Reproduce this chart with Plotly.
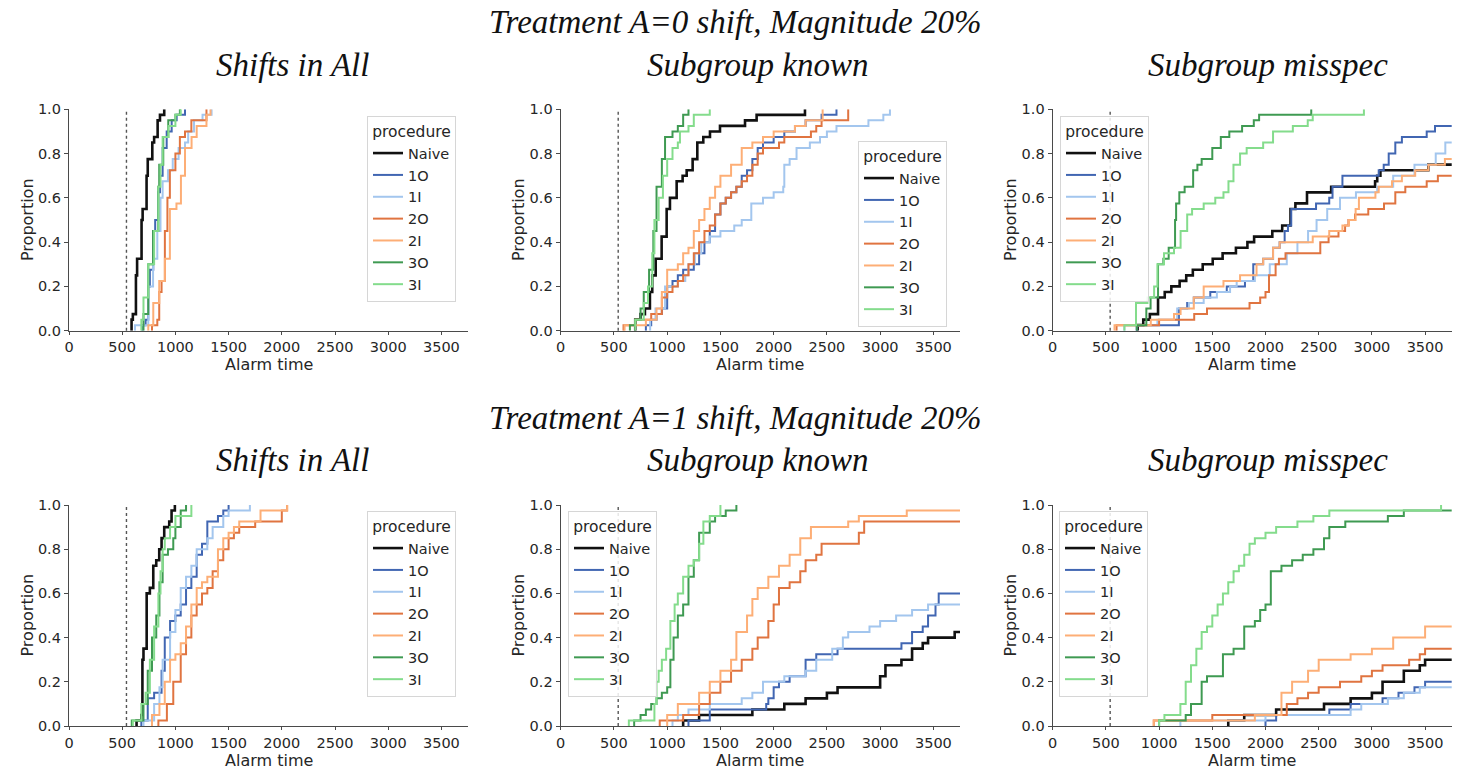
import plotly.graph_objects as go

W, H = 1461, 771          # browser window
BODY_MARGIN = 0           # page margin is removed by the post script
FIG_W, FIG_H = W - 2 * BODY_MARGIN, H - 2 * BODY_MARGIN
X_MAX = 3750
CHANGE_POINT = 540

PROCEDURES = ["Naive", "1O", "1I", "2O", "2I", "3O", "3I"]
COLORS = ["#111111", "#4166b2", "#a3c6ee", "#e07440", "#fdae76", "#3f9a52", "#84dc8c"]
X_TICKS = [0, 500, 1000, 1500, 2000, 2500, 3000, 3500]
Y_TICKS = [0.0, 0.2, 0.4, 0.6, 0.8, 1.0]
ROW_TITLES = ["Treatment A=0 shift, Magnitude 20%", "Treatment A=1 shift, Magnitude 20%"]
COL_TITLES = ["Shifts in All", "Subgroup known", "Subgroup misspec"]
X_LABEL = "Alarm time"
Y_LABEL = "Proportion"

# ---- A=0, Shifts in All ----
T_A0_ALL = {
    "Naive": [588, 600, 629, 640, 682, 692, 729, 740, 783, 800, 833, 855, 895],
    "1O": [690, 720, 745, 760, 792, 810, 839, 855, 880, 918, 965, 1012, 1090],
    "1I": [620, 745, 790, 830, 860, 880, 930, 975, 1030, 1090, 1120, 1175, 1255, 1340],
    "2O": [780, 830, 848, 870, 901, 925, 948, 1000, 1042, 1090, 1150, 1292],
    "2I": [745, 792, 848, 901, 948, 1010, 1052, 1090, 1152, 1200, 1292, 1330],
    "3O": [700, 745, 790, 839, 848, 886, 933, 1000, 1042],
    "3I": [680, 700, 745, 800, 840, 860, 880, 935, 1000, 1050],
}
P_A0_ALL = {
    "Naive": [0.05, 0.075, 0.25, 0.325, 0.5, 0.55, 0.7, 0.775, 0.85, 0.875, 0.95, 0.975, 1.0],
    "1O": [0.025, 0.05, 0.2, 0.275, 0.45, 0.5, 0.625, 0.7, 0.825, 0.9, 0.95, 0.975, 1.0],
    "1I": [0.025, 0.2, 0.325, 0.45, 0.6, 0.675, 0.725, 0.775, 0.825, 0.85, 0.9, 0.95, 0.975, 1.0],
    "2O": [0.025, 0.05, 0.175, 0.225, 0.45, 0.6, 0.725, 0.8, 0.875, 0.9, 0.95, 1.0],
    "2I": [0.025, 0.125, 0.225, 0.325, 0.55, 0.575, 0.7, 0.825, 0.875, 0.925, 0.975, 1.0],
    "3O": [0.075, 0.3, 0.45, 0.65, 0.75, 0.875, 0.95, 0.975, 1.0],
    "3I": [0.05, 0.15, 0.3, 0.45, 0.65, 0.75, 0.875, 0.925, 0.975, 1.0],
}

# ---- A=0, Subgroup known ----
T_A0_KNOWN = {
    "Naive": [700, 750, 791, 838, 860, 892, 948, 995, 1026, 1089, 1145, 1183, 1239, 1283, 1339, 1402, 1496, 1731, 1840, 2294],
    "1O": [800, 850, 900, 950, 1000, 1050, 1100, 1150, 1250, 1300, 1350, 1400, 1450, 1500, 1550, 1600, 1650, 1700,
           1750, 1800, 1850, 1900, 2000, 2100, 2200, 2300, 2450, 2590],
    "1I": [840, 890, 980, 1100, 1170, 1200, 1260, 1320, 1400, 1500, 1630, 1700, 1790, 1900, 2000, 2090, 2100, 2150,
           2215, 2340, 2435, 2500, 2590, 2890, 3030, 3092],
    "2O": [590, 700, 850, 950, 1000, 1050, 1100, 1150, 1200, 1250, 1300, 1350, 1400, 1450, 1500, 1550, 1600, 1650,
           1700, 1750, 1800, 1850, 1900, 2050, 2100, 2350, 2400, 2450, 2700],
    "2I": [600, 800, 900, 950, 1000, 1100, 1150, 1200, 1250, 1300, 1350, 1400, 1450, 1500, 1600, 1700, 1800, 1900,
           2000, 2200, 2300, 2460],
    "3O": [650, 700, 750, 780, 830, 870, 900, 950, 980, 1050, 1100, 1150, 1200],
    "3I": [700, 780, 820, 860, 880, 920, 960, 1000, 1050, 1100, 1120, 1200, 1250, 1400],
}
P_A0_KNOWN = {
    "Naive": [0.05, 0.075, 0.1, 0.175, 0.25, 0.325, 0.425, 0.55, 0.6, 0.675, 0.7, 0.725, 0.775, 0.85, 0.875, 0.9,
              0.925, 0.95, 0.975, 1.0],
    "1O": [0.025, 0.05, 0.075, 0.1, 0.2, 0.225, 0.25, 0.275, 0.3, 0.35, 0.4, 0.45, 0.525, 0.575, 0.6, 0.625, 0.65,
           0.7, 0.725, 0.775, 0.825, 0.85, 0.875, 0.9, 0.925, 0.95, 0.975, 1.0],
    "1I": [0.05, 0.1, 0.2, 0.225, 0.25, 0.3, 0.35, 0.4, 0.425, 0.45, 0.475, 0.5, 0.575, 0.6, 0.625, 0.65, 0.75,
           0.775, 0.825, 0.85, 0.875, 0.9, 0.925, 0.95, 0.975, 1.0],
    "2O": [0.025, 0.05, 0.075, 0.15, 0.175, 0.2, 0.225, 0.25, 0.3, 0.35, 0.4, 0.45, 0.475, 0.525, 0.575, 0.6, 0.625,
           0.65, 0.675, 0.7, 0.75, 0.8, 0.825, 0.85, 0.875, 0.9, 0.925, 0.95, 1.0],
    "2I": [0.025, 0.05, 0.1, 0.175, 0.275, 0.3, 0.35, 0.375, 0.45, 0.5, 0.55, 0.6, 0.65, 0.7, 0.75, 0.825, 0.85,
           0.875, 0.9, 0.925, 0.95, 1.0],
    "3O": [0.025, 0.05, 0.1, 0.175, 0.275, 0.45, 0.65, 0.775, 0.875, 0.9, 0.925, 0.975, 1.0],
    "3I": [0.05, 0.125, 0.2, 0.35, 0.5, 0.6, 0.7, 0.775, 0.825, 0.85, 0.9, 0.925, 0.975, 1.0],
}

# ---- A=0, Subgroup misspec ----
T_A0_MIS = {
    "Naive": [798, 851, 913, 990, 1053, 1115, 1193, 1255, 1317, 1410, 1504, 1597, 1722, 1830, 1893, 2064, 2157, 2235,
              2281, 2390, 2617, 3030, 3050, 3080, 3530],
    "1O": [790, 1186, 1264, 1326, 1481, 1636, 1807, 1885, 1978, 2071, 2133, 2180, 2211, 2242, 2475, 2599, 2630, 2723,
           3064, 3111, 3158, 3220, 3282, 3515, 3593],
    "1I": [674, 984, 1170, 1280, 1419, 1543, 1667, 1729, 1900, 2040, 2200, 2300, 2400, 2480, 2580, 2700, 2850, 3050,
           3200, 3400, 3600, 3690],
    "2O": [600, 1000, 1330, 1450, 1850, 1950, 2000, 2033, 2095, 2126, 2188, 2515, 2593, 2686, 2748, 2779, 2841, 2966,
           3114, 3220, 3314, 3515, 3620],
    "2I": [581, 922, 1140, 1202, 1326, 1419, 1605, 1761, 1916, 1978, 2071, 2133, 2444, 2599, 2723, 2785, 2847, 2878,
           3033, 3064, 3189, 3282, 3407, 3531, 3686],
    "3O": [790, 880, 920, 990, 1040, 1090, 1150, 1160, 1190, 1240, 1320, 1360, 1400, 1500, 1580, 1660, 1780, 1890,
           1940, 2430],
    "3I": [674, 783, 891, 953, 984, 1046, 1140, 1202, 1264, 1310, 1419, 1528, 1605, 1652, 1699, 1761, 1823, 1978,
           2071, 2257, 2397, 2444, 2925],
}
P_A0_MIS = {
    "Naive": [0.025, 0.05, 0.075, 0.15, 0.175, 0.2, 0.225, 0.25, 0.275, 0.3, 0.325, 0.35, 0.375, 0.4, 0.425, 0.45,
              0.475, 0.55, 0.575, 0.625, 0.65, 0.675, 0.7, 0.725, 0.75],
    "1O": [0.025, 0.1, 0.125, 0.15, 0.175, 0.2, 0.225, 0.3, 0.325, 0.375, 0.4, 0.45, 0.475, 0.55, 0.575, 0.6, 0.65,
           0.7, 0.725, 0.75, 0.8, 0.85, 0.875, 0.9, 0.925],
    "1I": [0.025, 0.05, 0.1, 0.125, 0.15, 0.175, 0.2, 0.225, 0.25, 0.3, 0.35, 0.4, 0.45, 0.5, 0.55, 0.6, 0.625, 0.65,
           0.7, 0.75, 0.8, 0.85],
    "2O": [0.025, 0.05, 0.075, 0.1, 0.125, 0.15, 0.175, 0.25, 0.3, 0.325, 0.35, 0.4, 0.425, 0.45, 0.475, 0.5, 0.525,
           0.55, 0.575, 0.625, 0.65, 0.675, 0.7],
    "2I": [0.025, 0.05, 0.075, 0.1, 0.15, 0.2, 0.225, 0.25, 0.3, 0.325, 0.375, 0.4, 0.425, 0.45, 0.475, 0.5, 0.55,
           0.6, 0.625, 0.65, 0.675, 0.7, 0.725, 0.75, 0.775],
    "3O": [0.025, 0.1, 0.15, 0.3, 0.325, 0.375, 0.5, 0.575, 0.625, 0.65, 0.725, 0.75, 0.775, 0.825, 0.875, 0.9,
           0.925, 0.95, 0.975, 1.0],
    "3I": [0.025, 0.125, 0.15, 0.2, 0.3, 0.35, 0.375, 0.45, 0.525, 0.55, 0.575, 0.6, 0.625, 0.675, 0.75, 0.8, 0.825,
           0.85, 0.9, 0.925, 0.95, 0.975, 1.0],
}

# ---- A=1, Shifts in All ----
T_A1_ALL = {
    "Naive": [635, 680, 690, 700, 730, 760, 792, 820, 848, 870, 895, 942, 964, 995],
    "1O": [680, 740, 800, 870, 900, 950, 1000, 1050, 1100, 1150, 1200, 1250, 1300, 1400, 1450, 1500],
    "1I": [700, 800, 850, 880, 950, 1000, 1050, 1100, 1150, 1200, 1300, 1350, 1450, 1500, 1700],
    "2O": [840, 920, 980, 1050, 1100, 1150, 1200, 1250, 1300, 1350, 1400, 1450, 1500, 1550, 1600, 1750, 2000, 2050],
    "2I": [780, 850, 900, 950, 1000, 1050, 1100, 1150, 1200, 1250, 1300, 1400, 1450, 1500, 1550, 1600, 1800, 2050],
    "3O": [590, 700, 740, 780, 820, 850, 880, 930, 980, 1000, 1050, 1100],
    "3I": [600, 680, 720, 760, 800, 840, 860, 880, 900, 950, 1000, 1150],
}
P_A1_ALL = {
    "Naive": [0.025, 0.05, 0.3, 0.35, 0.6, 0.625, 0.725, 0.75, 0.8, 0.85, 0.9, 0.925, 0.975, 1.0],
    "1O": [0.025, 0.125, 0.15, 0.25, 0.4, 0.475, 0.5, 0.55, 0.625, 0.675, 0.775, 0.825, 0.925, 0.95, 0.975, 1.0],
    "1I": [0.025, 0.1, 0.175, 0.3, 0.425, 0.525, 0.625, 0.675, 0.725, 0.8, 0.85, 0.9, 0.95, 0.975, 1.0],
    "2O": [0.025, 0.1, 0.2, 0.325, 0.4, 0.5, 0.55, 0.6, 0.625, 0.7, 0.75, 0.8, 0.85, 0.875, 0.9, 0.925, 0.975, 1.0],
    "2I": [0.05, 0.1, 0.2, 0.3, 0.325, 0.375, 0.45, 0.55, 0.625, 0.65, 0.675, 0.8, 0.85, 0.875, 0.9, 0.925, 0.975, 1.0],
    "3O": [0.025, 0.1, 0.25, 0.4, 0.5, 0.65, 0.775, 0.8, 0.85, 0.9, 0.975, 1.0],
    "3I": [0.025, 0.1, 0.15, 0.3, 0.45, 0.6, 0.7, 0.8, 0.85, 0.9, 0.95, 1.0],
}

# ---- A=1, Subgroup known ----
T_A1_KNOWN = {
    "Naive": [1150, 1300, 1800, 2100, 2300, 2500, 2600, 3000, 3050, 3200, 3300, 3400, 3450, 3700],
    "1O": [1200, 1400, 1930, 1950, 2000, 2050, 2150, 2300, 2400, 2600, 3200, 3300, 3400, 3450, 3520, 3550],
    "1I": [1050, 1100, 1200, 1400, 1700, 1800, 1900, 2100, 2300, 2400, 2550, 2650, 2700, 2900, 3000, 3150, 3300, 3450],
    "2O": [930, 1150, 1300, 1400, 1500, 1600, 1700, 1800, 1850, 1950, 2000, 2050, 2150, 2250, 2300, 2400, 2450, 2800, 2850],
    "2I": [1000, 1100, 1300, 1400, 1500, 1600, 1650, 1750, 1800, 1850, 1950, 2050, 2150, 2250, 2350, 2700, 2800, 3250],
    "3O": [690, 750, 800, 850, 900, 950, 1000, 1030, 1060, 1100, 1150, 1200, 1250, 1300, 1400, 1450, 1550, 1650],
    "3I": [640, 880, 900, 920, 950, 990, 1030, 1070, 1100, 1150, 1200, 1250, 1300, 1340, 1400, 1500],
}
P_A1_KNOWN = {
    "Naive": [0.025, 0.05, 0.075, 0.1, 0.125, 0.15, 0.175, 0.225, 0.275, 0.3, 0.35, 0.375, 0.4, 0.425],
    "1O": [0.025, 0.075, 0.1, 0.125, 0.175, 0.2, 0.225, 0.3, 0.325, 0.35, 0.375, 0.425, 0.45, 0.5, 0.55, 0.6],
    "1I": [0.025, 0.05, 0.075, 0.1, 0.125, 0.15, 0.2, 0.225, 0.25, 0.3, 0.35, 0.4, 0.425, 0.45, 0.475, 0.5, 0.525, 0.55],
    "2O": [0.025, 0.05, 0.1, 0.15, 0.2, 0.25, 0.3, 0.35, 0.4, 0.475, 0.55, 0.625, 0.65, 0.7, 0.75, 0.775, 0.825, 0.875, 0.925],
    "2I": [0.05, 0.1, 0.15, 0.2, 0.25, 0.3, 0.425, 0.5, 0.575, 0.625, 0.675, 0.725, 0.775, 0.85, 0.9, 0.925, 0.95, 0.975],
    "3O": [0.025, 0.05, 0.075, 0.1, 0.125, 0.15, 0.175, 0.3, 0.4, 0.5, 0.55, 0.675, 0.75, 0.875, 0.925, 0.95, 0.975, 1.0],
    "3I": [0.025, 0.1, 0.2, 0.25, 0.3, 0.35, 0.475, 0.55, 0.6, 0.675, 0.725, 0.75, 0.825, 0.925, 0.95, 1.0],
}

# ---- A=1, Subgroup misspec ----
T_A1_MIS = {
    "Naive": [1650, 1800, 2100, 2550, 2800, 3000, 3100, 3300, 3450, 3500],
    "1O": [2000, 2100, 2600, 2800, 3100, 3250, 3400, 3500],
    "1I": [1200, 2000, 2800, 2900, 3150, 3300, 3450],
    "2O": [950, 1500, 2200, 2300, 2400, 2500, 2700, 2900, 3000, 3100, 3350, 3450, 3500],
    "2I": [950, 1900, 2150, 2250, 2400, 2500, 2800, 3000, 3200, 3500],
    "3O": [1000, 1250, 1300, 1400, 1450, 1600, 1700, 1800, 1900, 1950, 2000, 2050, 2150, 2250, 2350, 2450, 2550,
           2600, 2750, 3150, 3300],
    "3I": [1000, 1050, 1200, 1250, 1300, 1350, 1400, 1450, 1500, 1550, 1600, 1650, 1700, 1750, 1800, 1850, 1900,
           2000, 2100, 2300, 2450, 2600, 3650],
}
P_A1_MIS = {
    "Naive": [0.025, 0.05, 0.075, 0.1, 0.125, 0.15, 0.2, 0.25, 0.275, 0.3],
    "1O": [0.025, 0.05, 0.075, 0.1, 0.125, 0.15, 0.175, 0.2],
    "1I": [0.025, 0.05, 0.075, 0.1, 0.125, 0.15, 0.175],
    "2O": [0.025, 0.05, 0.1, 0.125, 0.15, 0.175, 0.2, 0.225, 0.25, 0.275, 0.3, 0.325, 0.35],
    "2I": [0.025, 0.05, 0.15, 0.2, 0.25, 0.3, 0.325, 0.35, 0.4, 0.45],
    "3O": [0.025, 0.05, 0.1, 0.2, 0.225, 0.325, 0.35, 0.45, 0.475, 0.525, 0.55, 0.7, 0.725, 0.75, 0.775, 0.8, 0.85,
           0.9, 0.925, 0.95, 0.975],
    "3I": [0.025, 0.05, 0.1, 0.2, 0.275, 0.35, 0.425, 0.45, 0.5, 0.55, 0.6, 0.65, 0.7, 0.725, 0.775, 0.825, 0.85,
           0.875, 0.9, 0.925, 0.95, 0.975, 1.0],
}

PANELS = [
    (T_A0_ALL, P_A0_ALL), (T_A0_KNOWN, P_A0_KNOWN), (T_A0_MIS, P_A0_MIS),
    (T_A1_ALL, P_A1_ALL), (T_A1_KNOWN, P_A1_KNOWN), (T_A1_MIS, P_A1_MIS),
]

# ---- layout geometry (screen pixels in the 1461x771 window) ----
X_DOMAINS_PX = [(69, 468), (560.7, 960), (1052.7, 1451.7)]
Y_DOMAINS_PX = [(109.3, 330.7), (505, 726)]  # top, bottom
LEGEND_POS_PX = [(367, 116), (858, 141), (1060, 116), (367, 511), (568, 511), (1059, 511)]
ROW_TITLE_Y_PX = [22, 418]
COL_TITLE_Y_PX = [65, 460]
COL_TITLE_X_PX = [292, 758, 1268]
ROW_TITLE_X_PX = 735
X_LABEL_DY_PX = 34          # distance from x-axis line to the centre of "Alarm time"
Y_LABEL_X_PX = [27, 518, 1010]


def px_x(px):
    return (px - BODY_MARGIN) / FIG_W


def px_y(py):
    return 1 - (py - BODY_MARGIN) / FIG_H


FONT = "DejaVu Sans"
SERIF = "Liberation Serif"
AXIS_COLOR = "#4a4a4a"
TEXT_COLOR = "#262626"

fig = go.Figure()
layout = dict(
    width=FIG_W, height=FIG_H, autosize=False,
    margin=dict(l=0, r=0, t=0, b=0, pad=0, autoexpand=False),
    paper_bgcolor="white", plot_bgcolor="white",
    font=dict(family=FONT, color=TEXT_COLOR),
)
shapes = []
annotations = []

for i, (tdict, pdict) in enumerate(PANELS):
    row, col = divmod(i, 3)
    idx = i + 1
    xa = "xaxis" if idx == 1 else f"xaxis{idx}"
    ya = "yaxis" if idx == 1 else f"yaxis{idx}"
    xr = "x" if idx == 1 else f"x{idx}"
    yr = "y" if idx == 1 else f"y{idx}"
    lg = "legend" if idx == 1 else f"legend{idx}"

    x0, x1 = X_DOMAINS_PX[col]
    yt, yb = Y_DOMAINS_PX[row]
    layout[xa] = dict(
        domain=[px_x(x0), px_x(x1)], anchor=yr, range=[0, X_MAX], automargin=False,
        tickvals=X_TICKS, showline=True, linecolor=AXIS_COLOR, linewidth=1.3,
        ticks="outside", ticklen=3, tickwidth=1.2, tickcolor=AXIS_COLOR,
        showgrid=False, zeroline=False, tickfont=dict(size=14.5, color=TEXT_COLOR),
    )
    layout[ya] = dict(
        domain=[px_y(yb), px_y(yt)], anchor=xr, range=[0, 1], automargin=False,
        tickvals=Y_TICKS, tickformat=".1f", showline=True, linecolor=AXIS_COLOR, linewidth=1.3,
        ticks="outside", ticklen=4, tickwidth=1.2, tickcolor=AXIS_COLOR,
        showgrid=False, zeroline=False, tickfont=dict(size=14.5, color=TEXT_COLOR),
    )
    # axis titles as annotations (fixed pixel placement)
    annotations.append(dict(text=X_LABEL, x=px_x((x0 + x1) / 2), y=px_y(yb + X_LABEL_DY_PX),
                            xref="paper", yref="paper", showarrow=False, xanchor="center", yanchor="middle",
                            font=dict(family=FONT, size=16, color=TEXT_COLOR)))
    annotations.append(dict(text=Y_LABEL, x=px_x(Y_LABEL_X_PX[col]), y=px_y((yt + yb) / 2),
                            xref="paper", yref="paper", showarrow=False, xanchor="center", yanchor="middle",
                            textangle=-90, font=dict(family=FONT, size=16, color=TEXT_COLOR)))

    lx, ly = LEGEND_POS_PX[i]
    layout[lg] = dict(
        x=px_x(lx), y=px_y(ly), xanchor="left", yanchor="top",
        bgcolor="rgba(255,255,255,0.85)", bordercolor="#d6d6d6", borderwidth=1,
        title=dict(text="procedure", font=dict(size=15.5, family=FONT, color=TEXT_COLOR), side="top center"),
        font=dict(size=14.5, family=FONT, color=TEXT_COLOR), tracegroupgap=0, itemwidth=30,
    )

    shapes.append(dict(type="line", xref=xr, yref=f"{yr} domain", x0=CHANGE_POINT, x1=CHANGE_POINT,
                       y0=0, y1=1, line=dict(color="#555555", width=1.4, dash="dot"), layer="below"))

    for name, color in zip(PROCEDURES, COLORS):
        t = tdict[name]
        p = pdict[name]
        n = min(len(t), len(p))
        xs = [t[0]] + list(t[:n])
        ys = [0.0] + list(p[:n])
        if ys[-1] < 1.0:
            xs.append(X_MAX * 1.1)
            ys.append(ys[-1])
        fig.add_trace(go.Scatter(
            x=xs, y=ys, mode="lines", line_shape="hv", name=name,
            line=dict(color=color, width=2.6 if name == "Naive" else 2.0),
            xaxis=xr, yaxis=yr, legend=lg, showlegend=True,
        ))

for r, txt in enumerate(ROW_TITLES):
    annotations.append(dict(text=f"<i>{txt}</i>", x=px_x(ROW_TITLE_X_PX), y=px_y(ROW_TITLE_Y_PX[r]),
                            xref="paper", yref="paper", showarrow=False, xanchor="center", yanchor="middle",
                            font=dict(family=SERIF, size=33, color="#111111")))
    for c, ct in enumerate(COL_TITLES):
        annotations.append(dict(text=f"<i>{ct}</i>", x=px_x(COL_TITLE_X_PX[c]), y=px_y(COL_TITLE_Y_PX[r]),
                                xref="paper", yref="paper", showarrow=False, xanchor="center", yanchor="middle",
                                font=dict(family=SERIF, size=33, color="#111111")))

layout["shapes"] = shapes
layout["annotations"] = annotations
fig.update_layout(**layout)

fig.write_html("out.html", config={"displayModeBar": False},
               post_script="document.body.style.margin='0';document.body.style.overflow='hidden';")
